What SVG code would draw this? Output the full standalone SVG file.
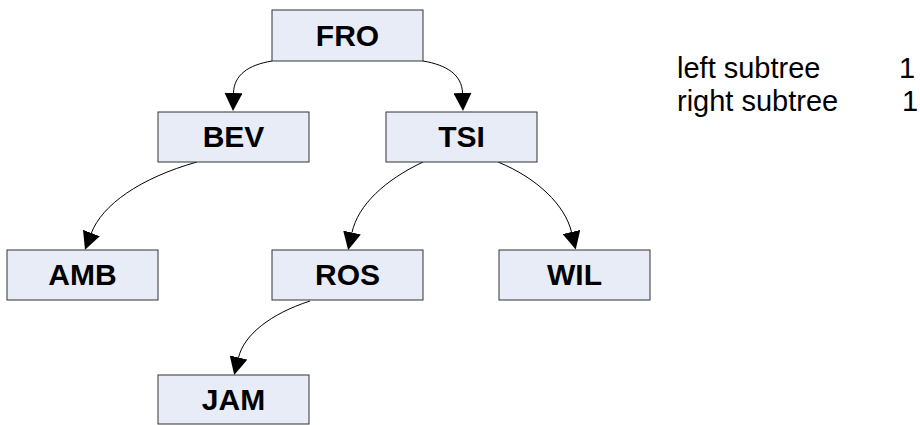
<svg xmlns="http://www.w3.org/2000/svg" width="920" height="425" viewBox="0 0 920 425">
<style>
.box{fill:#E8ECF7;stroke:#333;stroke-width:1}
.lbl{font-family:"Liberation Sans",Arial,sans-serif;font-weight:bold;font-size:30px;fill:#000;text-anchor:middle}
.leg{font-family:"Liberation Sans",Arial,sans-serif;font-size:29px;fill:#000}
.edge{fill:none;stroke:#000;stroke-width:1;marker-end:url(#ah)}
</style>
<defs>
<marker id="ah" markerWidth="18" markerHeight="18" refX="0" refY="9" orient="auto" markerUnits="userSpaceOnUse">
<path d="M0,0 L18,9 L0,18 z" fill="#000"/>
</marker>
</defs>
<rect width="920" height="425" fill="#fff"/>
<g id="connectors">
<path class="edge" d="M272,61 C248,65 234,75 233.5,93"/>
<path class="edge" d="M423,61 C447,65 462,75 462.5,93"/>
<path class="edge" d="M197,162 C140,178 102,205 91.4,233"/>
<path class="edge" d="M423,162 C385,180 358,205 352,232.5"/>
<path class="edge" d="M498,162 C537,178 565,205 571.5,232"/>
<path class="edge" d="M310,301 C270,314 244,335 238.5,357.5"/>
</g>
<g id="FRO"><rect class="box" x="272" y="10" width="151" height="51"/><text class="lbl" x="347.5" y="46">FRO</text></g>
<g id="BEV"><rect class="box" x="158" y="112" width="151" height="50"/><text class="lbl" x="233.5" y="147">BEV</text></g>
<g id="TSI"><rect class="box" x="386" y="112" width="151" height="50"/><text class="lbl" x="461.5" y="147">TSI</text></g>
<g id="AMB"><rect class="box" x="7" y="250" width="151" height="50"/><text class="lbl" x="82.5" y="285">AMB</text></g>
<g id="ROS"><rect class="box" x="272" y="250" width="151" height="50"/><text class="lbl" x="347.5" y="285">ROS</text></g>
<g id="WIL"><rect class="box" x="499" y="250" width="151" height="50"/><text class="lbl" x="574.5" y="285">WIL</text></g>
<g id="JAM"><rect class="box" x="158" y="375" width="151" height="49"/><text class="lbl" x="233.5" y="410">JAM</text></g>
<g id="legend">
<text class="leg" x="677" y="78">left subtree</text>
<text class="leg" x="899" y="78">1</text>
<text class="leg" x="677" y="111">right subtree</text>
<text class="leg" x="902" y="111">1</text>
</g>
</svg>
